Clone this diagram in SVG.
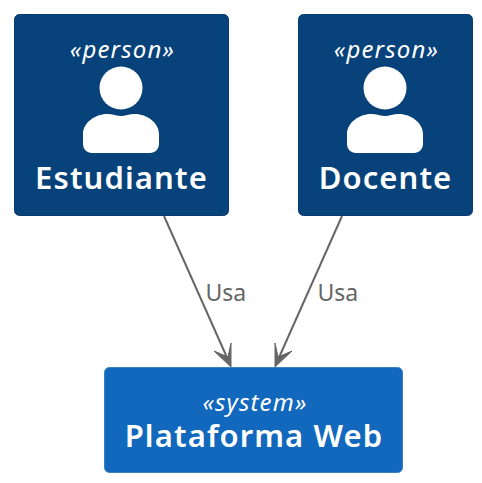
<svg xmlns="http://www.w3.org/2000/svg" width="482" height="483" viewBox="0 0 482 483">
<style>
.st{font-family:"Noto Sans",sans-serif;font-style:italic;font-size:24px;letter-spacing:1.15px;fill:#fff;text-anchor:middle}
.nm{font-family:"Noto Sans",sans-serif;font-weight:600;font-size:31px;letter-spacing:1.1px;fill:#fff;text-anchor:middle}
.lb{font-family:"Noto Sans",sans-serif;font-size:23px;fill:#666}
.ln{stroke:#666;stroke-width:2;fill:none}
.ah{fill:#666;stroke:#666;stroke-width:1}
.ic{fill:#fff}
</style>
<defs>
<g id="person"><circle cx="0" cy="0" r="21.500"/><path d="M-38 56V46C-38 35 -26 26 -14 26C-8 26 -4 28 0 28C4 28 8 26 14 26C26 26 38 35 38 46V56C38 61 34 65 29 65H-29C-34 65 -38 61 -38 56Z"/></g>
</defs>
<g id="connectors">
<path class="ln" d="M164 216L229 362"/>
<path class="ah" d="M231 367L231 343L228 357L214 351Z"/>
<path class="ln" d="M342 216L277 362"/>
<path class="ah" d="M275 367L275 343L278 357L292 351Z"/>
<text class="lb" x="205.500" y="301">Usa</text>
<text class="lb" x="317.500" y="301">Usa</text>
</g>
<g id="estudiante">
<rect x="14.500" y="14.500" width="214" height="201" rx="5" fill="#08427b" stroke="#073b6f"/>
<text class="st" x="122.500" y="58">«person»</text>
<use href="#person" x="121" y="88" class="ic"/>
<text class="nm" x="121.500" y="189">Estudiante</text>
</g>
<g id="docente">
<rect x="298.500" y="14.500" width="174" height="201" rx="5" fill="#08427b" stroke="#073b6f"/>
<text class="st" x="386.500" y="58">«person»</text>
<use href="#person" x="385" y="88" class="ic"/>
<text class="nm" x="385.500" y="189">Docente</text>
</g>
<g id="plataforma">
<rect x="104.500" y="367.500" width="298" height="105" rx="5" fill="#1168bd" stroke="#3c7fc0"/>
<text class="st" x="255" y="411">«system»</text>
<text class="nm" x="254" y="447">Plataforma Web</text>
</g>
</svg>
